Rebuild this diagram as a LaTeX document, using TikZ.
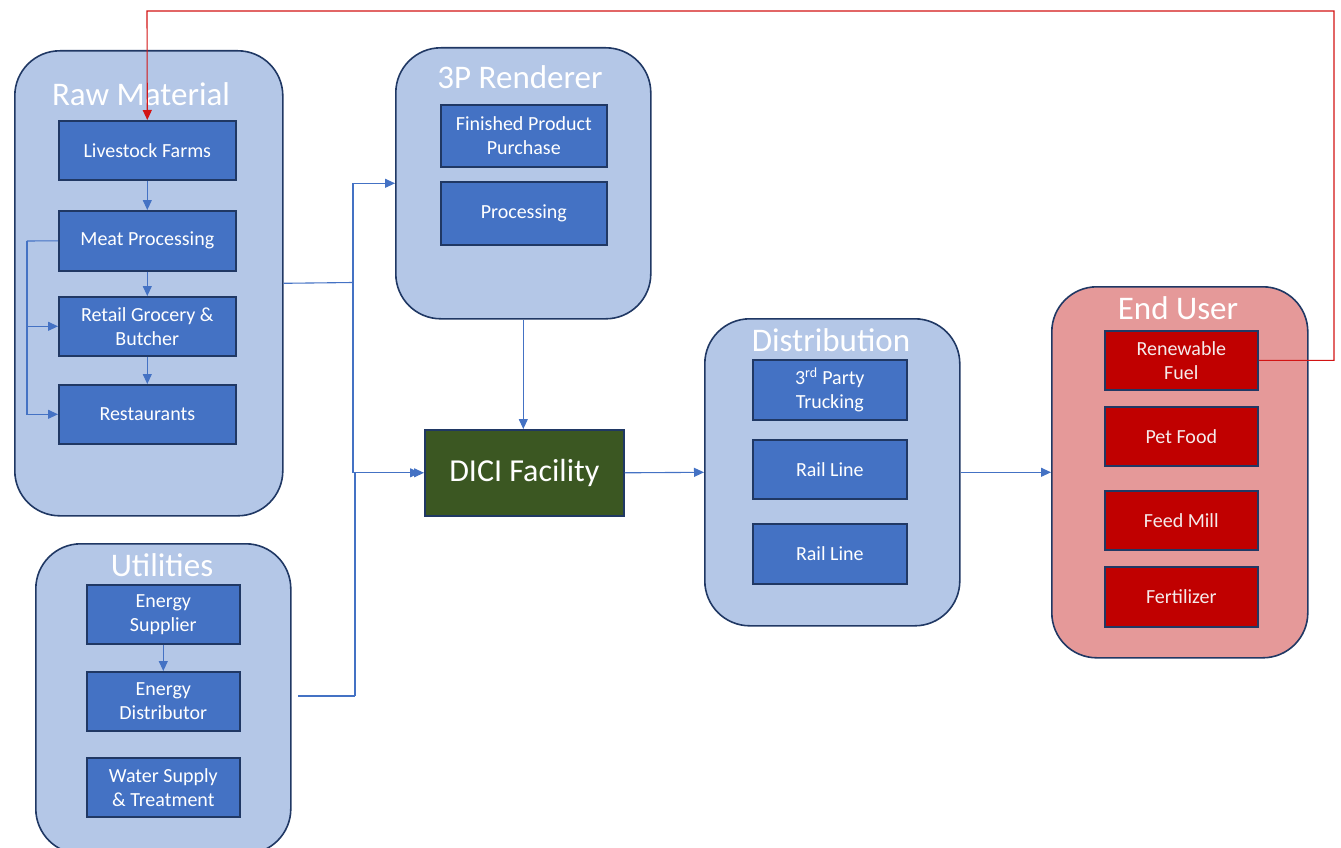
\documentclass[tikz,border=0pt]{standalone}
\usepackage{fontspec}
\setmainfont{Carlito}
\usetikzlibrary{arrows.meta}
\definecolor{contfill}{RGB}{180,199,231}
\definecolor{contline}{RGB}{32,56,100}
\definecolor{boxfill}{RGB}{68,114,196}
\definecolor{connc}{RGB}{68,114,196}
\definecolor{endfill}{RGB}{229,153,153}
\definecolor{redbox}{RGB}{192,0,0}
\definecolor{redline}{RGB}{210,20,20}
\definecolor{dicigreen}{RGB}{59,87,34}
\tikzset{
  cont/.style={draw=contline, fill=contfill, line width=1.6pt, rounded corners=45pt, anchor=north west, inner sep=0pt},
  ibox/.style={draw=contline, fill=boxfill, line width=1.6pt, anchor=north west, inner sep=0pt, align=center, text=white, font=\fontsize{20}{24}\selectfont},
  rbox/.style={ibox, fill=redbox, text={rgb,255:red,245;green,235;blue,235}},
  ttl/.style={text=white, font=\fontsize{33}{38}\selectfont, inner sep=0pt},
  conn/.style={draw=connc, line width=1.1pt, -{Triangle[length=10pt,width=9pt]}},
  plain/.style={draw=connc, line width=1.1pt},
  rconn/.style={draw=redline, line width=1.1pt, -{Triangle[length=10pt,width=9pt]}}
}
\begin{document}
\begin{tikzpicture}[x=1pt,y=-1pt]
\useasboundingbox (0,0) rectangle (1341,848);
\clip (0,0) rectangle (1341,848);
% containers
\node[cont, minimum width=268, minimum height=465] (raw) at (14,50) {};
\node[ttl] (rawt) at (141,94) {Raw Material};
\node[cont, minimum width=255, minimum height=271] (rend) at (395,47) {};
\node[ttl] (rendt) at (520,77) {3P Renderer};
\node[cont, minimum width=255, minimum height=310] (util) at (35,543) {};
\node[ttl] (utilt) at (162,565) {Utilities};
\node[cont, minimum width=255, minimum height=307] (dist) at (704,318) {};
\node[ttl] (distt) at (831,340) {Distribution};
\node[cont, fill=endfill, minimum width=256, minimum height=371] (endu) at (1051,286) {};
\node[ttl] (endt) at (1178,308) {End User};
% raw material boxes
\node[ibox, minimum width=177, minimum height=59] (lf) at (58,120) {Livestock Farms};
\node[ibox, minimum width=177, minimum height=60] (mp) at (58,210) {Meat Processing};
\node[ibox, minimum width=177, minimum height=59] (rg) at (58,296) {Retail Grocery \&\\Butcher};
\node[ibox, minimum width=177, minimum height=59] (rest) at (58,384) {Restaurants};
% renderer boxes
\node[ibox, minimum width=166, minimum height=62] (fpp) at (440,104) {Finished Product\\Purchase};
\node[ibox, minimum width=166, minimum height=63] (proc) at (440,181) {Processing};
% utilities boxes
\node[ibox, minimum width=153, minimum height=59] (es) at (86,584) {Energy\\Supplier};
\node[ibox, minimum width=153, minimum height=59] (ed) at (86,671) {Energy\\Distributor};
\node[ibox, minimum width=153, minimum height=59] (ws) at (86,757) {Water Supply\\\& Treatment};
% DICI
\node[draw=contline, fill=dicigreen, line width=1.6pt, anchor=north west, minimum width=199, minimum height=86, text=white, font=\fontsize{32}{37}\selectfont] (dici) at (424,429) {DICI Facility};
% distribution boxes
\node[ibox, minimum width=154, minimum height=60] (tr) at (752,359) {3\textsuperscript{rd} Party\\Trucking};
\node[ibox, minimum width=154, minimum height=59] (rl1) at (752,439) {Rail Line};
\node[ibox, minimum width=154, minimum height=60] (rl2) at (752,523) {Rail Line};
% end user boxes
\node[rbox, minimum width=153, minimum height=59] (rf) at (1104,330) {Renewable\\Fuel};
\node[rbox, minimum width=153, minimum height=59] (pf) at (1104,406) {Pet Food};
\node[rbox, minimum width=153, minimum height=59] (fm) at (1104,490) {Feed Mill};
\node[rbox, minimum width=153, minimum height=60] (fz) at (1104,566) {Fertilizer};
% connectors inside raw material
\draw[conn] (lf) -- (mp);
\draw[conn] (mp) -- (rg);
\draw[conn] (rg) -- (rest);
\coordinate (mpl) at (27,241);
\draw[plain] (mp.west) -- (mpl);
\draw[conn] (mpl) |- (rg.west);
\draw[conn] (mpl) |- (rest.west);
% utilities internal
\draw[conn] (es) -- (ed);
% raw -> renderer / dici
\coordinate (j1) at (353,282.5);
\draw[plain] (raw.east) -- (j1);
\draw[conn] (j1) |- (rend.west);
\draw[conn] (j1) |- (dici.west);
% utilities -> dici
\coordinate (u0) at (298,696);
\coordinate (j2) at (355,696);
\draw[plain] (u0) -- (j2);
\draw[conn, shorten >=4pt] (j2) |- (dici.west);
% renderer -> dici
\draw[conn] (rend.south) -- (rend.south |- dici.north);
% dici -> distribution -> end user
\draw[conn] (dici.east) -- (dist.west);
\draw[conn] (dist.east) -- (endu.west);
% red feedback loop
\coordinate (r1) at (1334,11);
\coordinate (r2) at (147,11);
\draw[rconn] (rf.east) -| (r1) -- (r2) -- (lf.north);
\end{tikzpicture}
\end{document}
